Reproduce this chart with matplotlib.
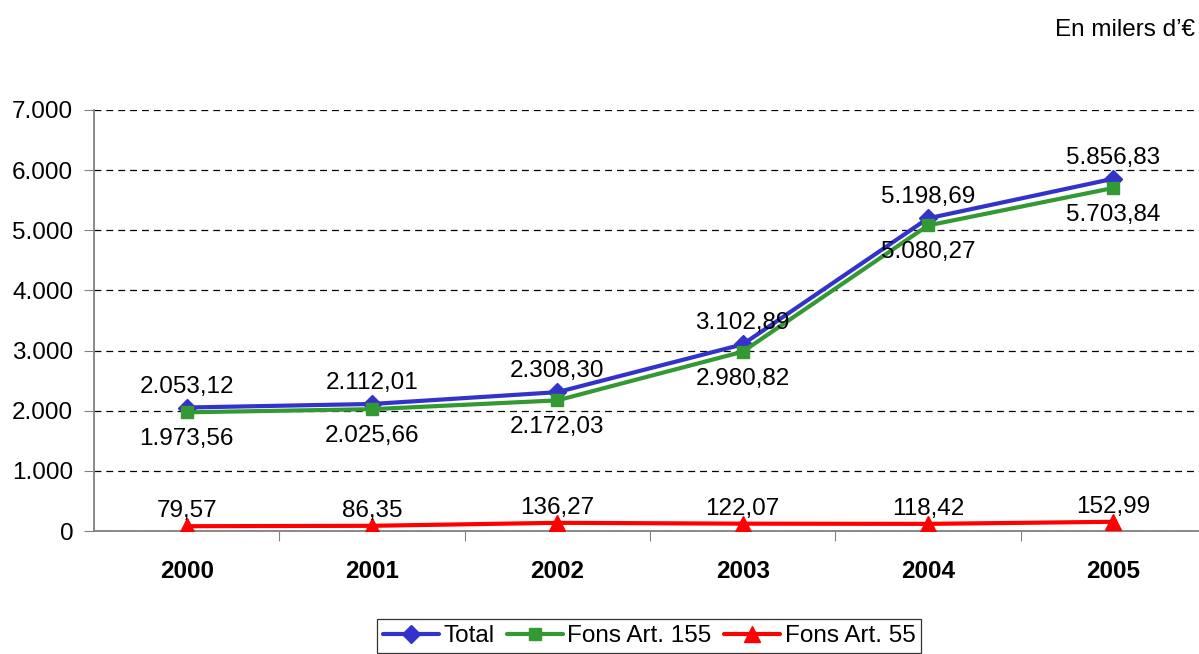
import matplotlib
matplotlib.use("Agg")
import matplotlib.pyplot as plt

plt.rcParams["font.family"] = ["Liberation Sans", "DejaVu Sans"]

years = ["2000", "2001", "2002", "2003", "2004", "2005"]
total = [2053.12, 2112.01, 2308.30, 3102.89, 5198.69, 5856.83]
fons155 = [1973.56, 2025.66, 2172.03, 2980.82, 5080.27, 5703.84]
fons55 = [79.57, 86.35, 136.27, 122.07, 118.42, 152.99]
yticks = [0, 1000, 2000, 3000, 4000, 5000, 6000, 7000]


def fmt(v, dec=2):
    s = f"{v:,.{dec}f}"
    return s.replace(",", "X").replace(".", ",").replace("X", ".")


fig = plt.figure(figsize=(11.99, 6.54), dpi=100)
ax = fig.add_axes([94 / 1199, 123 / 654, 1112 / 1199, 421 / 654])

x = range(len(years))
FS = 17.5
series = [
    (total, "Total", "#3333CC", "D", 9, 21),
    (fons155, "Fons Art. 155", "#339933", "s", 9, -27),
    (fons55, "Fons Art. 55", "#FF0000", "^", 12, 15),
]
for vals, lab, col, mk, ms, off in series:
    ax.plot(x, vals, color=col, lw=3, marker=mk, ms=ms, label=lab,
            solid_capstyle="round", zorder=3)
    for xi, v in zip(x, vals):
        ax.annotate(fmt(v), (xi, v), xytext=(0, off), textcoords="offset pixels",
                    ha="center", va="center", fontsize=FS, zorder=4)

ax.set_xlim(-0.5, len(years) - 0.5)
ax.set_ylim(0, 7000)
ax.set_yticks(yticks)
ax.set_yticklabels([fmt(t, 0) for t in yticks], fontsize=FS)
ax.yaxis.grid(True, ls=(0, (5.5, 4)), color="black", lw=0.9)
ax.set_axisbelow(True)

ax.set_xticks([i + 0.5 for i in range(len(years) - 1)])
ax.set_xticklabels([])
ax.set_xticks(list(x), minor=True)
ax.set_xticklabels(years, minor=True, fontsize=FS, fontweight="bold")
ax.tick_params(axis="x", which="major", direction="out", length=7, color="#808080")
ax.tick_params(axis="x", which="minor", length=0, pad=21)
ax.tick_params(axis="y", direction="out", length=7, color="#808080", pad=8)

for s in ["top", "right"]:
    ax.spines[s].set_visible(False)
for s in ["left", "bottom"]:
    ax.spines[s].set_color("#808080")
    ax.spines[s].set_linewidth(1.3)

fig.text(1195 / 1199, 1 - 30 / 654, "En milers d\u2019\u20ac", ha="right", va="center",
         fontsize=FS)

leg = fig.legend(loc="center", bbox_to_anchor=(649 / 1199, 1 - 636 / 654), ncol=3,
                 fontsize=FS, frameon=True, fancybox=False, edgecolor="black",
                 handlelength=2.3, handletextpad=0.2, columnspacing=0.5,
                 borderpad=0.25, borderaxespad=0)
leg.get_frame().set_linewidth(0.9)

fig.savefig("out.png", dpi=100)
